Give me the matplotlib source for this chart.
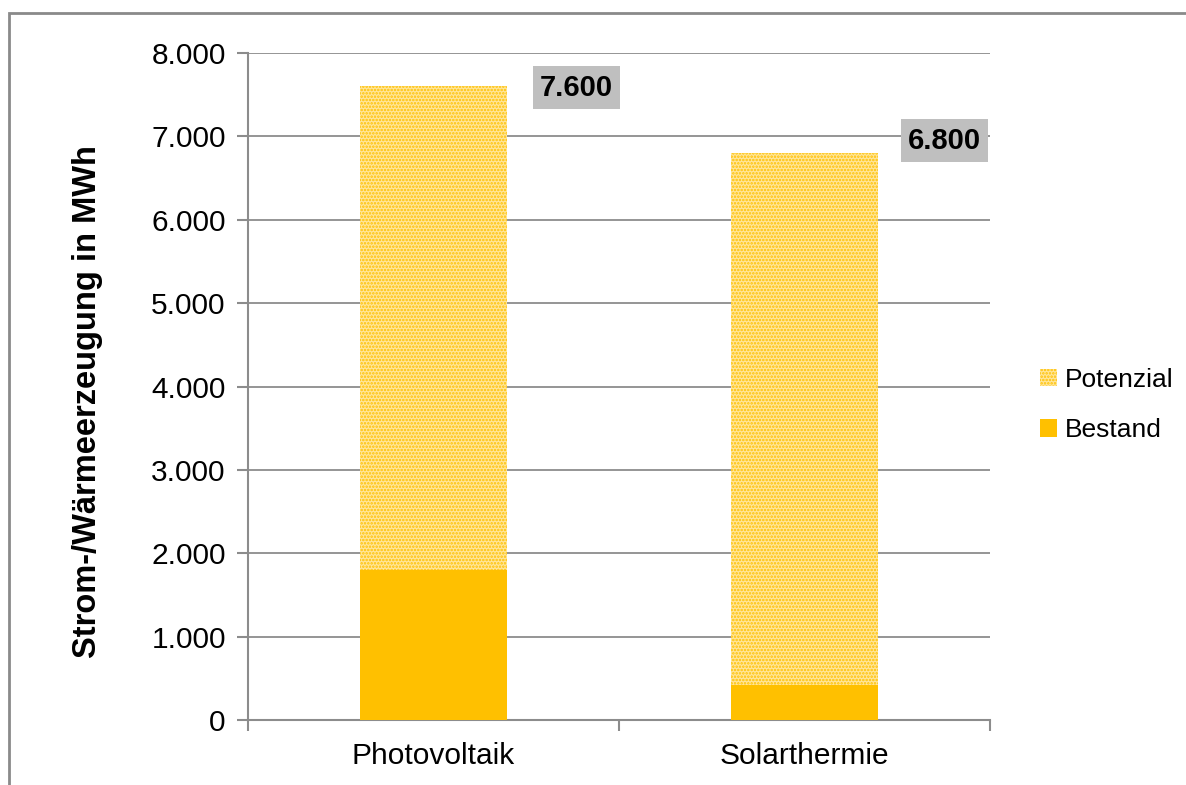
import matplotlib
matplotlib.use("Agg")
import matplotlib.pyplot as plt
from matplotlib.patches import Rectangle, Patch
from matplotlib.ticker import FuncFormatter

plt.rcParams['font.family'] = ['Liberation Sans', 'DejaVu Sans']
plt.rcParams['hatch.linewidth'] = 1.2

categories = ["Photovoltaik", "Solarthermie"]
bestand = [1800, 420]
potenzial = [5800, 6380]
totals = [7600, 6800]
total_labels = ["7.600", "6.800"]
y_ticks = [0, 1000, 2000, 3000, 4000, 5000, 6000, 7000, 8000]

GRID = "#8c8c8c"
SOLID = "#FFC000"
LIGHT = "#FFE69A"

fig = plt.figure(figsize=(11.86, 7.85), dpi=100)
fig.patch.set_facecolor("white")

# outer chart frame
fig.patches.append(Rectangle((9 / 1186, -0.05), 1.2, (785 - 13) / 785 + 0.05,
                             transform=fig.transFigure, fill=False,
                             edgecolor="#8a8a8a", linewidth=2.0, zorder=0))

ax = fig.add_axes([248 / 1186, 1 - 720 / 785, 742 / 1186, 667 / 785])

x = range(len(categories))
ax.bar(x, bestand, width=0.396, color=SOLID, edgecolor="none", zorder=3)
ax.bar(x, potenzial, bottom=bestand, width=0.396, color=LIGHT,
       edgecolor=SOLID, linewidth=0, hatch=".....", zorder=3)

# total labels sit to the right of each bar top
label_offsets = [(50, -1), (48, 9)]
for i, (t, lab) in enumerate(zip(totals, total_labels)):
    ax.annotate(lab, xy=(i + 0.198, t), xytext=label_offsets[i], textcoords="offset points",
                ha="center", va="center", fontsize=21, fontweight="bold",
                bbox=dict(boxstyle="square,pad=0.25", facecolor="#BFBFBF",
                          edgecolor="none"), zorder=4)

ax.set_xlim(-0.5, 1.5)
ax.set_ylim(0, 8000)
ax.set_yticks(y_ticks)
ax.yaxis.set_major_formatter(FuncFormatter(lambda v, p: f"{int(v):,}".replace(",", ".")))
ax.set_xticks(list(x))
ax.set_xticklabels(categories)
ax.set_xticks([-0.5, 0.5, 1.5], minor=True)
ax.tick_params(axis="x", which="major", length=0, pad=16, labelsize=21.5)
ax.tick_params(axis="x", which="minor", length=8, color=GRID, width=1.5, direction="out")
ax.tick_params(axis="y", length=8, color=GRID, width=1.5, pad=8, labelsize=21.5)

ax.grid(axis="y", color=GRID, linewidth=1.3, zorder=0)
for s in ["top", "right"]:
    ax.spines[s].set_visible(False)
for s in ["left", "bottom"]:
    ax.spines[s].set_color(GRID)
    ax.spines[s].set_linewidth(1.5)

fig.text(88 / 1186, 1 - 402 / 785, "Strom-/Wärmeerzeugung in MWh", rotation=90,
         ha="center", va="center", fontsize=23.5, fontweight="bold")

handles = [Patch(facecolor=LIGHT, edgecolor=SOLID, linewidth=0, hatch=".....", label="Potenzial"),
           Patch(facecolor=SOLID, edgecolor="none", label="Bestand")]
fig.legend(handles=handles, loc="center left", bbox_to_anchor=(1040 / 1186, 1 - 405 / 785),
           frameon=False, fontsize=19, handlelength=0.65, handleheight=0.65,
           handletextpad=0.3, labelspacing=1.0, borderpad=0, borderaxespad=0)

fig.savefig("out.png", dpi=100)
